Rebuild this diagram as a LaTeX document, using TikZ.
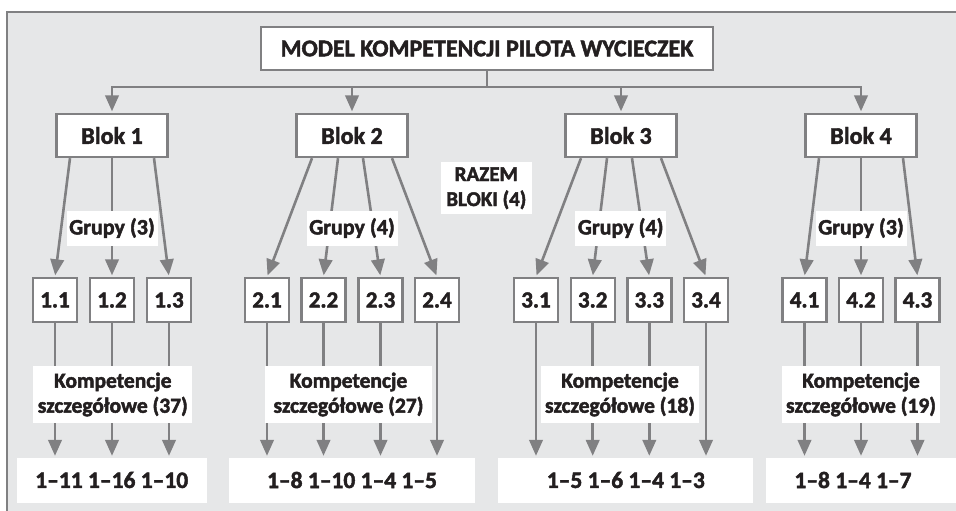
\documentclass[tikz,border=0pt]{standalone}
\usepackage{fontspec}
\setmainfont{Carlito}[BoldFont={Carlito Bold}]
\usetikzlibrary{arrows.meta,calc}
\definecolor{framebg}{RGB}{230,231,232}
\definecolor{linegray}{RGB}{128,128,130}
\definecolor{inkc}{RGB}{35,31,32}
% heavier lettering: fill and stroke the glyph outlines
\newcommand\heavyon{\special{pdf:literal direct 2 Tr 0.45 w}}
\newcommand\heavyoff{\special{pdf:literal direct 0 Tr}}
\begin{document}
\begin{tikzpicture}[x=1pt,y=-1pt,
  conn/.style={draw=linegray,line width=2.6pt},
  arr/.style={conn,-{Triangle[length=16pt,width=13.5pt]},shorten >=1.5pt},
  txt/.style={text=inkc,inner sep=0pt,font=\fontsize{24}{28}\selectfont\bfseries,
    execute at begin node=\heavyon, execute at end node=\heavyoff},
  box/.style={txt,draw=linegray,line width=2.4pt,fill=white},
  blok/.style={box,minimum width=111pt,minimum height=43pt},
  sub/.style={box,minimum width=44pt,minimum height=44pt,font=\fontsize{23}{27}\selectfont\bfseries},
  tag/.style={txt,fill=white,align=center},
  grp/.style={tag,minimum width=91pt,minimum height=35pt,font=\fontsize{22}{26}\selectfont\bfseries},
  komp/.style={tag,minimum height=57pt,font=\fontsize{21.5}{25}\selectfont\bfseries},
  res/.style={tag,minimum height=45pt,font=\fontsize{23.5}{27}\selectfont\bfseries}]
\useasboundingbox (0,0) rectangle (956,511);
\clip (0,0) rectangle (956,511);
% outer panel
\fill[white] (0,0) rectangle (956,511);
\filldraw[fill=framebg,draw=linegray,line width=2.5pt] (7,530) -- (7,12) -- (980,12) -- (980,530) -- cycle;

% title and blocks
\node[box,minimum width=452pt,minimum height=43pt] (title) at (487,48.5) {MODEL KOMPETENCJI PILOTA WYCIECZEK};
\node[blok] (b1) at (112,135.5) {Blok 1};
\node[blok] (b2) at (352,135.5) {Blok 2};
\node[blok] (b3) at (621,135.5) {Blok 3};
\node[blok] (b4) at (861,135.5) {Blok 4};
\coordinate (hy) at (0,87);

% groups
\node[sub] (s11) at (55,300) {1.1};
\node[sub] (s12) at (112,300) {1.2};
\node[sub] (s13) at (169,300) {1.3};
\node[sub] (s21) at (267,300) {2.1};
\node[sub] (s22) at (323.5,300) {2.2};
\node[sub] (s23) at (380.5,300) {2.3};
\node[sub] (s24) at (437,300) {2.4};
\node[sub] (s31) at (536,300) {3.1};
\node[sub] (s32) at (592.7,300) {3.2};
\node[sub] (s33) at (649.3,300) {3.3};
\node[sub] (s34) at (706,300) {3.4};
\node[sub] (s41) at (804.5,300) {4.1};
\node[sub] (s42) at (861,300) {4.2};
\node[sub] (s43) at (917.5,300) {4.3};

% ranges of detailed competences
\node[res,minimum width=190pt] (r1) at (111.7,480) {1–11 1–16 1–10};
\node[res,minimum width=246pt] (r2) at (352,480) {1–8 1–10 1–4 1–5};
\node[res,minimum width=255pt] (r3) at (625.8,480) {1–5 1–6 1–4 1–3};
\node[res,minimum width=194pt] (r4) at (863,480) {\hspace*{-20pt}1–8 1–4 1–7};

% title to blocks
\draw[conn] (title.south) -- (title.south |- hy);
\draw[conn,{Triangle[length=16pt,width=13.5pt]}-{Triangle[length=16pt,width=13.5pt]},shorten <=1.5pt,shorten >=1.5pt]
  (b1.north) -- (b1.north |- hy) -- (b4.north |- hy) -- (b4.north);
\draw[arr] (b2.north |- hy) -- (b2.north);
\draw[arr] (b3.north |- hy) -- (b3.north);

% blocks to groups
\draw[arr] ($(b1.south)+(-42,0)$) -- (s11.north);
\draw[arr] (b1.south) -- (s12.north);
\draw[arr] ($(b1.south)+(42,0)$) -- (s13.north);
\draw[arr] ($(b2.south)+(-40,0)$) -- (s21.north);
\draw[arr] ($(b2.south)+(-14,0)$) -- (s22.north);
\draw[arr] ($(b2.south)+(11,0)$) -- (s23.north);
\draw[arr] ($(b2.south)+(40,0)$) -- (s24.north);
\draw[arr] ($(b3.south)+(-40,0)$) -- (s31.north);
\draw[arr] ($(b3.south)+(-14,0)$) -- (s32.north);
\draw[arr] ($(b3.south)+(11,0)$) -- (s33.north);
\draw[arr] ($(b3.south)+(40,0)$) -- (s34.north);
\draw[arr] ($(b4.south)+(-42,0)$) -- (s41.north);
\draw[arr] (b4.south) -- (s42.north);
\draw[arr] ($(b4.south)+(42,0)$) -- (s43.north);

% groups to ranges
\foreach \s/\r in {s11/r1,s12/r1,s13/r1,s21/r2,s22/r2,s23/r2,s24/r2,s31/r3,s32/r3,s33/r3,s34/r3,s41/r4,s42/r4,s43/r4}
  \draw[arr] (\s.south) -- (\s.south |- \r.north);

% captions laid over the connectors
\node[grp] (g1) at (112,228) {Grupy (3)};
\node[grp] (g2) at (352,228) {Grupy (4)};
\node[grp] (g3) at (620.7,228) {Grupy (4)};
\node[grp] (g4) at (861,228) {Grupy (3)};
\node[tag,minimum width=91pt,minimum height=52pt,font=\fontsize{21}{25}\selectfont\bfseries] (razem) at (486.3,188.3) {RAZEM\\BLOKI (4)};
\node[komp,minimum width=159pt] (k1) at (112.8,394.5) {Kompetencje\\szczegółowe (37)};
\node[komp,minimum width=167pt] (k2) at (348.5,394.5) {Kompetencje\\szczegółowe (27)};
\node[komp,minimum width=158pt] (k3) at (620,394.5) {Kompetencje\\szczegółowe (18)};
\node[komp,minimum width=158pt] (k4) at (861,394.5) {Kompetencje\\szczegółowe (19)};
\end{tikzpicture}
\end{document}
